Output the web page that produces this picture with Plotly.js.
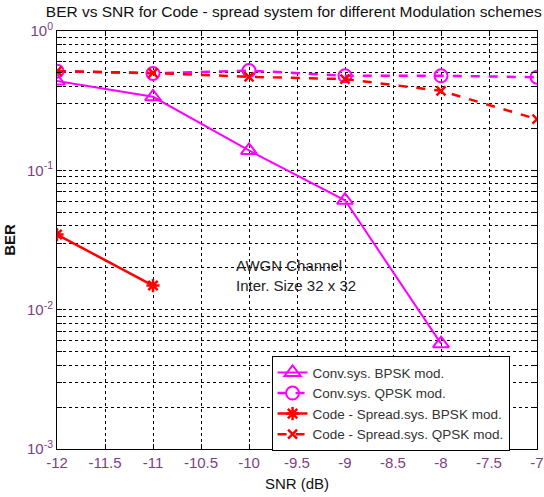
<!DOCTYPE html>
<html>
<head>
<meta charset="utf-8">
<script src="https://cdn.plot.ly/plotly-3.0.1.min.js"></script>
<style>html,body{margin:0;padding:0;background:#fff;}#chart{width:544px;height:497px;}</style>
</head>
<body>
<div id="chart"></div>
<script>
// SNR values (dB)
const snr = [-12, -11, -10, -9, -8, -7];
const snrShort = [-12, -11];

// BER series
const convBPSK = [0.437, 0.337, 0.139, 0.061, 0.0057];
const convQPSK = [0.515, 0.496, 0.52, 0.477, 0.477, 0.466];
const csBPSK = [0.0346, 0.0149];
const csQPSK = [0.515, 0.50, 0.469, 0.452, 0.372, 0.233];

const seriesNames = [
  'Conv.sys. BPSK mod.',
  'Conv.sys. QPSK mod.',
  'Code - Spread.sys. BPSK mod.',
  'Code - Spread.sys. QPSK mod.'
];

// y ticks: every 1..9 x 10^k, labels on decades only
const yTickVals = [];
const yTickText = [];
for (let e = -3; e <= 0; e++) {
  for (let m = 1; m <= 9; m++) {
    if (e === 0 && m > 1) break;
    yTickVals.push(m * Math.pow(10, e));
    yTickText.push(m === 1 ? '10<sup>' + e + '</sup>' : '');
  }
}
const xTickVals = [-12, -11.5, -11, -10.5, -10, -9.5, -9, -8.5, -8, -7.5, -7];
const xTickText = xTickVals.map(String);

const magenta = '#ff00ff';
const red = '#ff0000';
const tickColor = '#7b3f86';

const traces = [
  {x: snr.slice(0, convBPSK.length), y: convBPSK, name: seriesNames[0], mode: 'lines+markers',
   line: {color: magenta, width: 2},
   marker: {symbol: 'triangle-up-open', size: 14, color: magenta, line: {width: 2, color: magenta}}},
  {x: snr, y: convQPSK, name: seriesNames[1], mode: 'lines+markers',
   line: {color: magenta, width: 2.5, dash: 'dash'},
   marker: {symbol: 'circle-open', size: 13, color: magenta, line: {width: 2, color: magenta}}},
  {x: snrShort, y: csBPSK, name: seriesNames[2], mode: 'lines+markers',
   line: {color: red, width: 2.5},
   marker: {symbol: 'asterisk-open', size: 11, color: red, line: {width: 2.5, color: red}}},
  {x: snr, y: csQPSK, name: seriesNames[3], mode: 'lines+markers',
   line: {color: red, width: 2.5, dash: 'dash'},
   marker: {symbol: 'x-thin-open', size: 9, color: red, line: {width: 2.5, color: red}}}
];

const axisCommon = {
  showline: true, linecolor: '#000', linewidth: 1, mirror: 'ticks',
  ticks: 'inside', ticklen: 5, tickcolor: '#000',
  showgrid: true, gridcolor: '#000', gridwidth: 1, griddash: '3px,3px',
  zeroline: false,
  tickfont: {family: 'Liberation Sans, Arial, sans-serif', size: 15, color: tickColor}
};

const layout = {
  width: 544, height: 497,
  margin: {l: 57, r: 7, t: 31, b: 48},
  paper_bgcolor: '#fff', plot_bgcolor: '#fff',
  font: {family: 'Liberation Sans, Arial, sans-serif', color: '#000'},
  title: {text: 'BER vs SNR for Code - spread system for different Modulation schemes',
          font: {size: 15.5, color: '#111'}, x: 0.54, xanchor: 'center', y: 0.976, yanchor: 'middle'},
  xaxis: Object.assign({}, axisCommon, {
    range: [-12, -7], tickvals: xTickVals, ticktext: xTickText,
    title: {text: 'SNR (dB)', font: {size: 15, color: '#111'}, standoff: 8}
  }),
  yaxis: Object.assign({}, axisCommon, {
    type: 'log', range: [-3, 0], tickvals: yTickVals, ticktext: yTickText,
    title: {text: '<b>BER</b>', font: {size: 15, color: '#111'}, standoff: 7}
  }),
  showlegend: true,
  legend: {x: 0.447, y: 0.222, xanchor: 'left', yanchor: 'top',
           bgcolor: '#fff', bordercolor: '#000', borderwidth: 1,
           font: {size: 13.5, color: '#333'}, tracegroupgap: 0, itemwidth: 30},
  annotations: [{
    xref: 'paper', yref: 'paper', x: 0.368, y: 0.465, xanchor: 'left', yanchor: 'top',
    text: 'AWGN Channel<br>Inter. Size 32 x 32', align: 'left', showarrow: false,
    font: {size: 15, color: '#222'}
  }]
};

Plotly.newPlot('chart', traces, layout, {displayModeBar: false, staticPlot: true});
</script>
</body>
</html>
